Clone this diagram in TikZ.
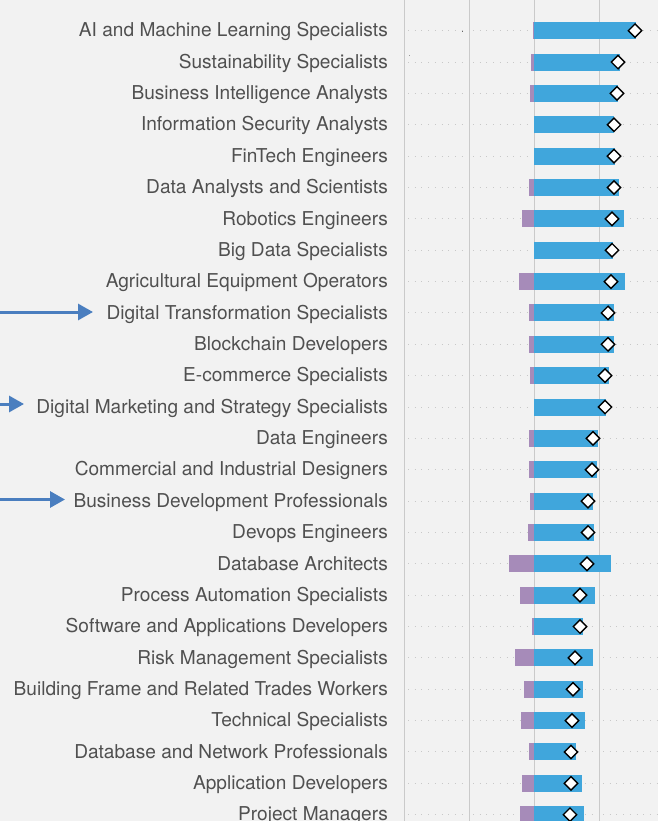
\documentclass[tikz,border=0pt]{standalone}
\usepackage{fontspec}
\setmainfont{TeX Gyre Heros}
\usetikzlibrary{shapes.geometric,arrows.meta}
\definecolor{bg}{HTML}{F2F2F2}
\definecolor{gridc}{HTML}{CACACA}
\definecolor{dotc}{HTML}{C8C8C8}
\definecolor{barblue}{HTML}{40A6DC}
\definecolor{barpurple}{HTML}{A68BB9}
\definecolor{txt}{HTML}{505050}
\definecolor{arrowblue}{HTML}{4A7EBF}
\tikzset{
  gridline/.style={gridc, line width=1pt},
  rowdots/.style={dotc, line width=1pt, dash pattern=on 1pt off 5.7pt},
  posbar/.style={fill=barblue},
  negbar/.style={fill=barpurple},
  dmd/.style={shape=diamond, draw=black, fill=white, line width=1.4pt, inner sep=0pt, minimum width=14pt, minimum height=14pt},
  lab/.style={anchor=base east, text=txt, font=\fontsize{19.1}{22}\selectfont, inner sep=0pt},
  pointer/.style={arrowblue, line width=3pt, -{Triangle[length=15pt,width=16pt]}}
}
\begin{document}
\begin{tikzpicture}[x=1pt,y=-1pt]
\useasboundingbox (0,0) rectangle (658,821);
\clip (0,0) rectangle (658,821);
\fill[bg] (0,0) rectangle (658,821);
\foreach \gx in {404,469,534,599} {\draw[gridline] (\gx,0) -- (\gx,821);}
\fill[black!60] (461.5,30) rectangle (462.5,32.5);
\fill[black!40] (408.5,55.5) rectangle (409.5,56.5);
\foreach \i/\lab/\pl/\br/\dm in {
 1/AI and Machine Learning Specialists/532.7/636/635,
 2/Sustainability Specialists/531/620/618,
 3/Business Intelligence Analysts/530/618/617,
 4/Information Security Analysts/534/614/614,
 5/FinTech Engineers/534/615/614,
 6/Data Analysts and Scientists/529/619/614,
 7/Robotics Engineers/522/624/612,
 8/Big Data Specialists/534/613/612,
 9/Agricultural Equipment Operators/519/625/611,
 10/Digital Transformation Specialists/529/614/608,
 11/Blockchain Developers/529/614/608,
 12/E-commerce Specialists/530/609/605,
 13/Digital Marketing and Strategy Specialists/534/606/605,
 14/Data Engineers/529/598/593,
 15/Commercial and Industrial Designers/529/597/592,
 16/Business Development Professionals/530/593/588,
 17/Devops Engineers/528/594/588,
 18/Database Architects/509/611/587,
 19/Process Automation Specialists/520/595/580,
 20/Software and Applications Developers/532/583/580,
 21/Risk Management Specialists/515/593/575,
 22/Building Frame and Related Trades Workers/524/583/573,
 23/Technical Specialists/521/585/572,
 24/Database and Network Professionals/529/576/571,
 25/Application Developers/522/582/571,
 26/Project Managers/520/584/570}
{
  \pgfmathsetmacro\yy{30.7+(\i-1)*31.36}
  \draw[rowdots] (408,\yy) -- (466,\yy);
  \draw[rowdots] (473,\yy) -- (531,\yy);
  \draw[rowdots] (538,\yy) -- (596,\yy);
  \draw[rowdots] (603,\yy) -- (658,\yy);
  \fill[negbar] (\pl,\yy-8.5) rectangle (534,\yy+8.5);
  \fill[posbar] (534,\yy-8.5) rectangle (\br,\yy+8.5);
  \node[dmd] (d\i) at (\dm,\yy) {};
  \node[lab] (l\i) at (388,\yy+6.2) {\lab};
}
\coordinate (a1s) at (-2,312);
\coordinate (a1e) at (93,312);
\coordinate (a2s) at (-2,404);
\coordinate (a2e) at (24,404);
\coordinate (a3s) at (-2,499.5);
\coordinate (a3e) at (65,499.5);
\draw[pointer] (a1s) -- (a1e);
\draw[pointer] (a2s) -- (a2e);
\draw[pointer] (a3s) -- (a3e);
\end{tikzpicture}
\end{document}
